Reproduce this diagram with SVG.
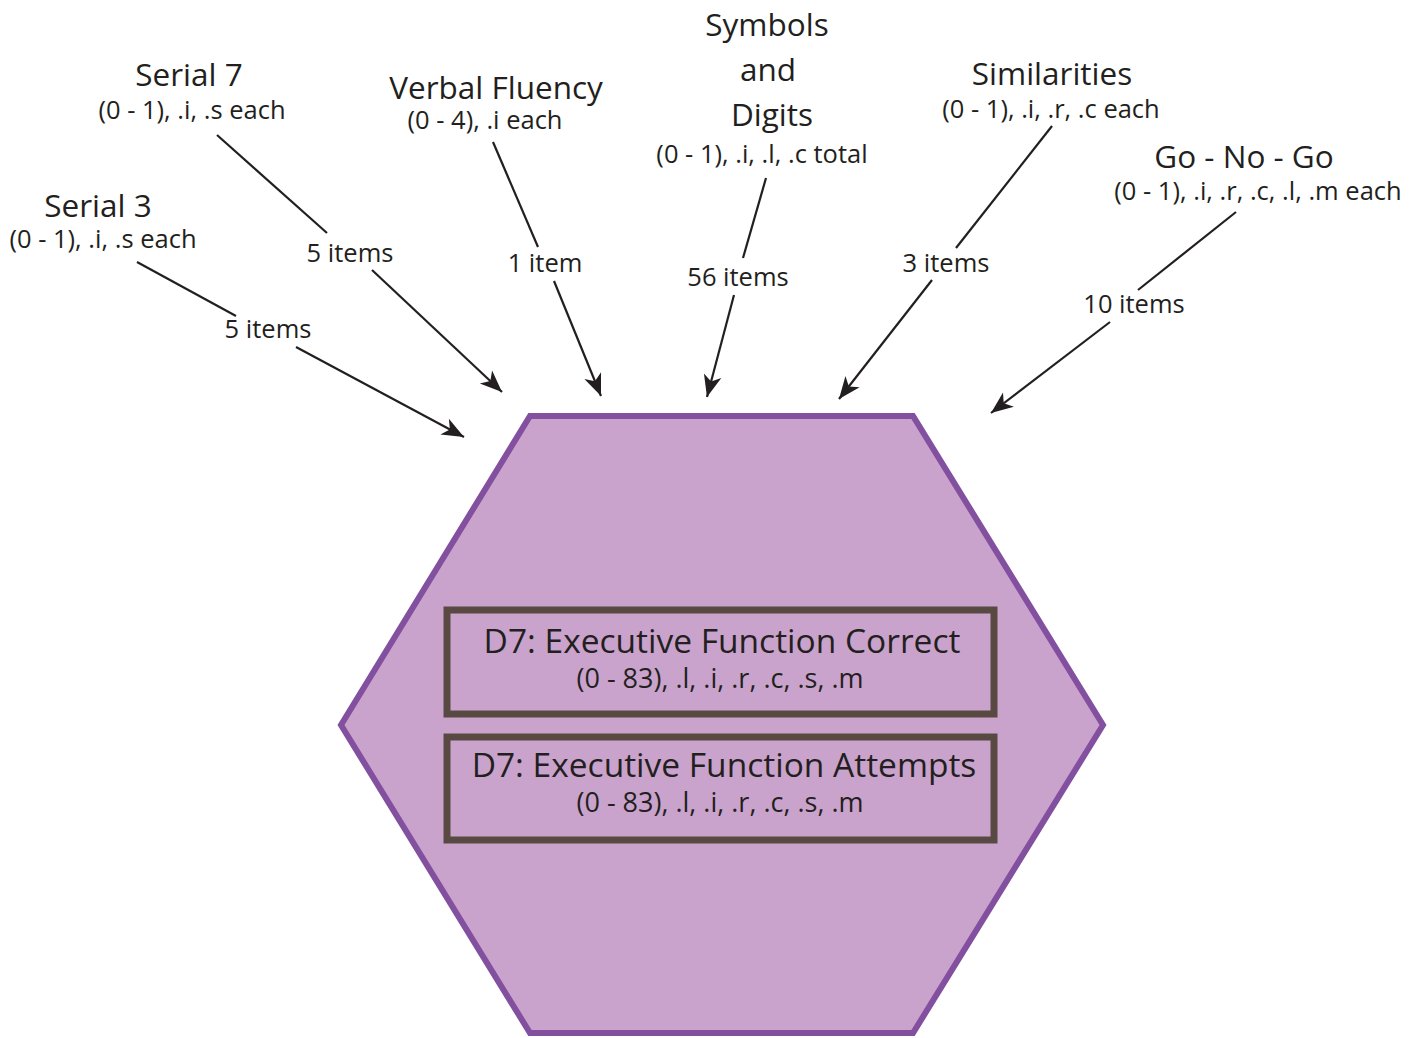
<svg xmlns="http://www.w3.org/2000/svg" width="1413" height="1038" viewBox="0 0 1413 1038">
<style>
.t{font-family:"Open Sans","Noto Sans",sans-serif;fill:#231f20;text-anchor:middle}
.h{font-size:31.5px}
.s{font-size:25.5px}
.l{font-size:25.5px}
.b{font-size:33.5px}
.bs{font-size:27px}
.c{stroke:#231f20;stroke-width:2.2;fill:none}
</style>
<defs>
<marker id="ah" markerUnits="userSpaceOnUse" markerWidth="30" markerHeight="24" viewBox="-2 -12 28 24" refX="22" refY="0" orient="auto">
<path d="M0,-9 L22,0 L0,9 L6,0 z" fill="#231f20"/>
</marker>
</defs>
<rect width="1413" height="1038" fill="#ffffff"/>
<g id="hexagon">
<polygon points="530,416 913,416 1103,725 913,1033 530,1033 341,725" fill="#c9a3cc" stroke="#8350a0" stroke-width="6"/>
</g>
<g id="box-correct">
<rect x="447" y="610" width="547" height="104" fill="none" stroke="#584a42" stroke-width="7"/>
<text class="t b" x="722" y="653">D7: Executive Function Correct</text>
<text class="t bs" x="720" y="688">(0 - 83), .l, .i, .r, .c, .s, .m</text>
</g>
<g id="box-attempts">
<rect x="447" y="737" width="547" height="103" fill="none" stroke="#584a42" stroke-width="7"/>
<text class="t b" x="724" y="777">D7: Executive Function Attempts</text>
<text class="t bs" x="720" y="812">(0 - 83), .l, .i, .r, .c, .s, .m</text>
</g>
<g id="serial7">
<text class="t h" x="189" y="86">Serial 7</text>
<text class="t s" x="192" y="119">(0 - 1), .i, .s each</text>
</g>
<g id="serial3">
<text class="t h" x="98" y="217">Serial 3</text>
<text class="t s" x="103" y="248">(0 - 1), .i, .s each</text>
</g>
<g id="verbal">
<text class="t h" x="496" y="99">Verbal Fluency</text>
<text class="t s" x="485" y="129">(0 - 4), .i each</text>
</g>
<g id="symbols">
<text class="t h" x="767" y="36">Symbols</text>
<text class="t h" x="768" y="81">and</text>
<text class="t h" x="772" y="126">Digits</text>
<text class="t s" x="762" y="163">(0 - 1), .i, .l, .c total</text>
</g>
<g id="similarities">
<text class="t h" x="1052" y="85">Similarities</text>
<text class="t s" x="1051" y="118">(0 - 1), .i, .r, .c each</text>
</g>
<g id="gonogo">
<text class="t h" x="1244" y="168">Go - No - Go</text>
<text class="t s" x="1258" y="200">(0 - 1), .i, .r, .c, .l, .m each</text>
</g>
<g id="connectors">
<line class="c" x1="217" y1="135" x2="327" y2="233"/>
<line class="c" x1="372" y1="270" x2="502" y2="392" marker-end="url(#ah)"/>
<line class="c" x1="137" y1="262" x2="236" y2="316"/>
<line class="c" x1="296" y1="347" x2="464" y2="437" marker-end="url(#ah)"/>
<line class="c" x1="493" y1="142" x2="538" y2="247"/>
<line class="c" x1="554" y1="281" x2="601" y2="396" marker-end="url(#ah)"/>
<line class="c" x1="766" y1="178" x2="743" y2="258"/>
<line class="c" x1="734" y1="295" x2="707" y2="397" marker-end="url(#ah)"/>
<line class="c" x1="1052" y1="126" x2="956" y2="248"/>
<line class="c" x1="932" y1="280" x2="839" y2="399" marker-end="url(#ah)"/>
<line class="c" x1="1236" y1="212" x2="1138" y2="290"/>
<line class="c" x1="1110" y1="322" x2="991" y2="413" marker-end="url(#ah)"/>
<text class="t l" x="350" y="262">5 items</text>
<text class="t l" x="268" y="338">5 items</text>
<text class="t l" x="545" y="272">1 item</text>
<text class="t l" x="738" y="286">56 items</text>
<text class="t l" x="946" y="272">3 items</text>
<text class="t l" x="1134" y="313">10 items</text>
</g>
</svg>
